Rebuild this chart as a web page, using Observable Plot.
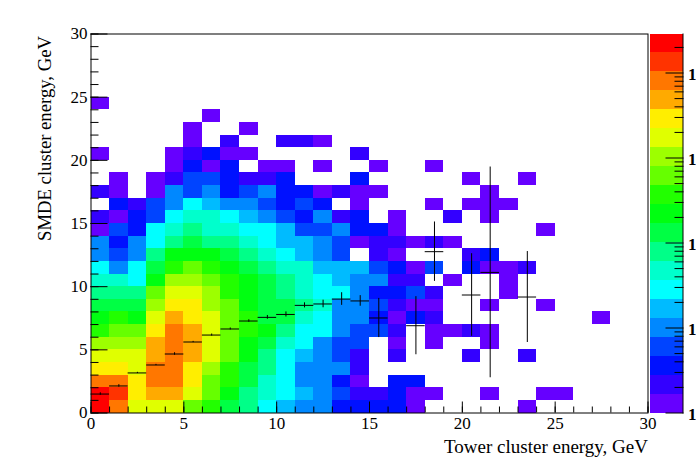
<!DOCTYPE html>
<html><head><meta charset="utf-8">
<script src="https://cdn.jsdelivr.net/npm/d3@7"></script>
<script src="https://cdn.jsdelivr.net/npm/@observablehq/plot@0.6"></script>
<style>
html,body{margin:0;padding:0;background:#fff;overflow:hidden}
#c{position:relative;width:696px;height:474px;overflow:hidden}
#c svg{position:absolute;left:0;top:0;overflow:hidden;background:none}
</style></head><body><div id="c"></div>
<script>
// Palette band per cell (1 = lowest, 20 = highest, 0 = empty); each list is one SMDE-energy row, 1 GeV wide, from Tower energy 0 GeV
const row00=[20,18,15,15,15,13,12,10,9,7,6,5,5,3,3,3,3,1,0,0,0,0,0,1];
const row01=[20,19,16,17,17,15,13,11,9,8,7,6,5,4,2,2,3,1,1,0,0,1,0,0,1,1];
const row02=[18,18,16,18,18,16,13,12,10,8,7,5,5,3,1,0,3,3];
const row03=[16,16,15,18,18,16,14,12,10,9,7,5,5,5,2];
const row04=[15,15,15,17,18,17,15,13,11,9,7,6,5,4,2,0,2,0,0,0,2,0,0,2];
const row05=[14,14,14,17,18,17,15,13,11,10,8,7,5,4,4,0,1,0,1,0,0,1];
const row06=[12,13,13,16,18,17,15,13,12,11,9,7,7,5,4,4,2,0,1,1,2,1];
const row07=[11,12,11,15,17,16,15,13,12,10,10,8,7,5,5,3,1,3,2,0,0,0,0,0,0,0,0,1];
const row08=[10,10,10,14,16,16,14,13,11,10,10,9,8,5,5,4,2,1,1,0,0,1,0,0,1];
const row09=[9,9,9,13,15,15,14,12,11,10,9,8,7,7,5,3,3,4,2,0,0,0,1];
const row10=[8,8,7,11,14,14,13,12,11,10,9,8,7,6,5,5,2,2,0,1,0,0,1];
const row11=[7,5,7,10,12,13,12,11,10,9,8,8,6,6,6,4,3,1,4,0,3,1,1,2];
const row12=[5,4,5,9,11,11,11,10,9,8,7,6,5,4,0,2,1,0,0,0,2,3];
const row13=[5,3,5,7,9,10,9,9,8,7,6,6,5,4,1,2,2,1,2,1];
const row14=[1,4,3,7,8,9,8,8,7,7,6,4,4,5,3,3,1,0,0,0,0,0,0,0,1];
const row15=[2,1,3,4,7,8,8,7,6,5,4,3,5,2,3,0,1,0,0,2,0,1];
const row16=[0,3,2,4,5,7,6,5,5,4,3,4,3,0,1,0,0,0,1,0,1,1,1];
const row17=[2,1,0,1,5,4,5,3,4,5,3,3,1,2,1,1,0,0,0,0,0,1];
const row18=[0,1,0,1,2,4,4,3,2,2,3,0,0,0,3,0,0,0,0,0,1,0,0,1];
const row19=[0,0,0,0,1,3,1,3,0,1,1,0,1,0,0,1,0,0,1];
const row20=[1,0,0,0,1,2,3,1,1,0,0,0,0,0,2];
const row21=[0,0,0,0,0,1,0,2,0,0,2,2,1];
const row22=[0,0,0,0,0,1,0,0,1];
const row23=[0,0,0,0,0,0,1];
const row24=[1];
const rows=[row00,row01,row02,row03,row04,row05,row06,row07,row08,row09,row10,row11,row12,row13,row14,row15,row16,row17,row18,row19,row20,row21,row22,row23,row24];

// Profile: mean SMDE energy and its error per Tower energy bin
const profileBin =[0,1,2,3,4,5,6,7,8,9,10,11,12,13,14,15,17,18,20,21,23];
const profileMean=[1.5,2.14,3.17,3.8,4.67,5.62,6.17,6.65,7.28,7.57,7.8,8.52,8.63,9.02,8.87,7.52,6.91,12.77,9.34,11.13,9.18];
const profileErr =[0.1,0.1,0.05,0.05,0.1,0.05,0.08,0.08,0.1,0.15,0.2,0.2,0.3,0.5,0.42,1.55,2.3,2.35,3.27,8.34,3.6];

const palette=["#6600ff","#3300ff","#0011ff","#0044ff","#0088ff","#00bbff","#00ffff","#00ffcc","#00ff88","#00ff44","#00ff11","#22ff00","#66ff00","#9dff00","#e0ff00","#ffee00","#ffaa00","#ff7700","#ff3300","#ff0000"];
const zMax=10**4.459;
const zMajor=[1,10,100,1000,10000];
const zMinor=zMajor.flatMap(d=>[2,3,4,5,6,7,8,9].map(k=>k*d)).filter(v=>v<zMax);
const zLabel="1";

const FONT="'Liberation Serif',serif";
const cells=rows.flatMap((r,j)=>r.map((level,i)=>({i,j,level})).filter(d=>d.level>0));
const profile=profileBin.map((b,k)=>({b,m:profileMean[k],e:profileErr[k]}));

const main=Plot.plot({
  width:696,height:474,marginLeft:90.5,marginRight:48.5,marginTop:33.5,marginBottom:61.5,
  style:{fontFamily:FONT,fontSize:"17px",color:"#000"},
  x:{domain:[0,30]},y:{domain:[0,30]},
  color:{type:"ordinal",domain:d3.range(1,21),range:palette},
  marks:[
    Plot.rect(cells,{x1:d=>d.i,x2:d=>d.i+1,y1:d=>d.j,y2:d=>d.j+1,fill:"level",inset:0,shapeRendering:"crispEdges"}),
    Plot.ruleX(profile,{x:d=>d.b+0.5,y1:d=>d.m-d.e,y2:d=>d.m+d.e,stroke:"#000",strokeWidth:1}),
    Plot.ruleY(profile,{y:"m",x1:"b",x2:d=>d.b+1,stroke:"#000",strokeWidth:1}),
    Plot.axisX({ticks:d3.range(0,31),tickSize:-6,text:null,label:null}),
    Plot.axisX({ticks:d3.range(0,31,5),tickSize:-11,tickPadding:15,tickFormat:d=>d,label:null}),
    Plot.axisY({ticks:d3.range(0,31),tickSize:-8,text:null,label:null}),
    Plot.axisY({ticks:d3.range(0,31,5),tickSize:-17,tickPadding:20.5,tickFormat:d=>d,label:null}),
    Plot.text(["Tower cluster energy, GeV"],{frameAnchor:"bottom-right",textAnchor:"end",dx:0,dy:40,fontSize:19,fill:"#000"}),
    Plot.text(["SMDE cluster energy, GeV"],{frameAnchor:"top-left",rotate:-90,textAnchor:"end",dx:-53,dy:2,fontSize:18.7,fill:"#000"}),
    Plot.frame({stroke:"#000",strokeWidth:1})
  ]
});

const bandEdges=d3.range(0,21).map(k=>10**(k*Math.log10(zMax)/20));
const bands=palette.map((c,k)=>({c,z1:bandEdges[k],z2:bandEdges[k+1]}));
const bar=Plot.plot({
  width:696,height:474,marginLeft:650,marginRight:13.5,marginTop:33.5,marginBottom:61.5,
  style:{fontFamily:FONT,fontSize:"17px",color:"#000"},
  x:{domain:[0,1],axis:null},
  y:{type:"log",domain:[1,zMax]},
  marks:[
    Plot.rect(bands,{x1:0,x2:1,y1:"z1",y2:"z2",fill:d=>d.c,shapeRendering:"crispEdges"}),
    Plot.axisY({anchor:"right",ticks:zMinor,tickSize:-9,text:null,label:null}),
    Plot.axisY({anchor:"right",ticks:zMajor,tickSize:-18,text:null,label:null}),
    Plot.text(zMajor,{y:d=>d,text:()=>zLabel,frameAnchor:"right",textAnchor:"end",dx:13.5,dy:2,fontWeight:"bold",fontSize:17,fill:"#000"}),
    Plot.frame({anchor:"right",stroke:"#000",strokeWidth:1})
  ]
});
document.getElementById("c").append(main,bar);
</script></body></html>
